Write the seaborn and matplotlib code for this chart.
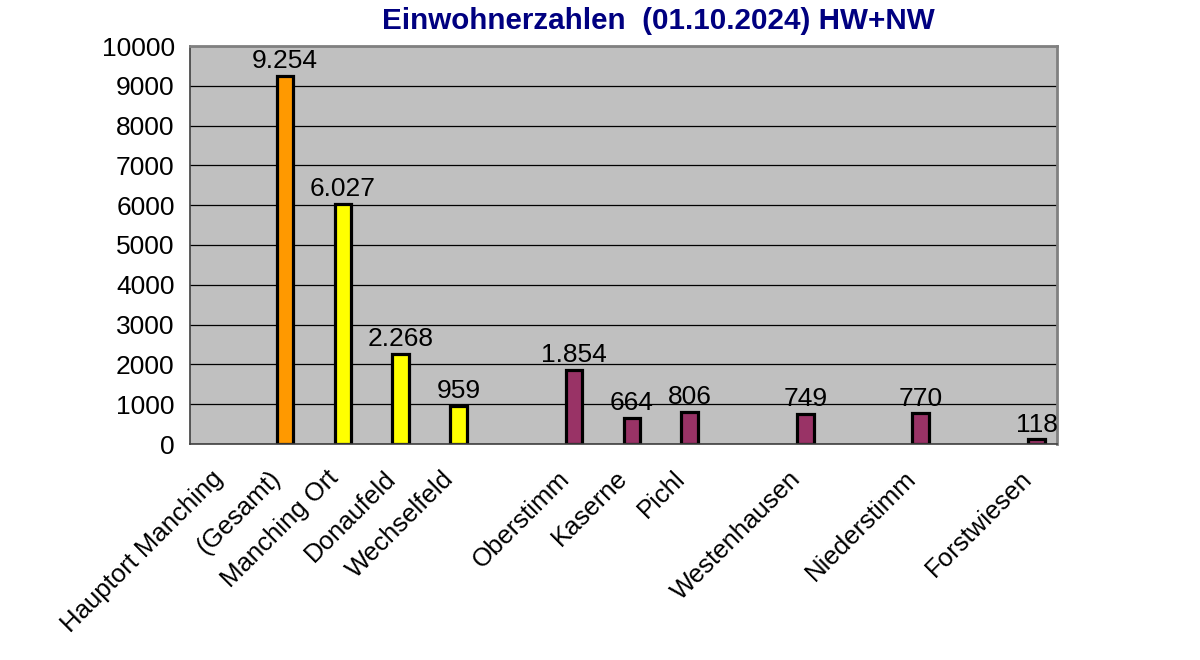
import numpy as np
import pandas as pd
import matplotlib
matplotlib.use("Agg")
import matplotlib.pyplot as plt
import seaborn as sns

# ---- data ----
categories = ["Hauptort Manching", "(Gesamt)", "Manching Ort", "Donaufeld", "Wechselfeld", "",
              "Oberstimm", "Kaserne", "Pichl", "", "Westenhausen", "", "Niederstimm", "", "Forstwiesen"]
values = [None, 9254, 6027, 2268, 959, None, 1854, 664, 806, None, 749, None, 770, None, 118]
bar_colors = [None, "#FF9900", "#FFFF00", "#FFFF00", "#FFFF00", None,
              "#993366", "#993366", "#993366", None, "#993366", None, "#993366", None, "#993366"]
y_ticks = list(range(0, 10001, 1000))
title = "Einwohnerzahlen  (01.10.2024) HW+NW"

sns.set_style("white")
plt.rcParams["font.family"] = ["Liberation Sans", "DejaVu Sans"]
plt.rcParams["text.color"] = "black"
plt.rcParams["xtick.color"] = "black"
plt.rcParams["ytick.color"] = "black"

slots = list(range(len(categories)))
rows = [(s, v) for s, v in zip(slots, values) if v is not None]
df = pd.DataFrame({"slot": [r[0] for r in rows], "wert": [r[1] for r in rows],
                   "serie": ["Wert"] * len(rows)})
cols = [c for c in bar_colors if c is not None]

fig = plt.figure(figsize=(12, 6.6), dpi=100)
ax = fig.add_axes([190 / 1200, 1 - 444 / 660, 867 / 1200, 398 / 660])
ax.set_facecolor("#C0C0C0")

sns.barplot(data=df, x="slot", y="wert", hue="serie", hue_order=["leer", "Wert"],
            order=slots, dodge=True, width=0.58, palette={"leer": "#9999FF", "Wert": "#993366"},
            edgecolor="black", linewidth=2.3, legend=False, ax=ax, errorbar=None)

bars = ax.containers[-1]
for p, c in zip(bars, cols):
    p.set_facecolor(c)

labels = [f"{v:,}".replace(",", ".") for v in df["wert"]]
ax.bar_label(bars, labels=labels, padding=2, fontsize=19, color="black")

ax.set_xlim(-0.5, len(categories) - 0.5)
ax.set_ylim(0, 10000)
ax.set_yticks(y_ticks)
ax.set_yticklabels([str(t) for t in y_ticks], fontsize=19, color="black")
ax.set_xticks(slots)
ax.set_xticklabels(categories, rotation=45, ha="right", va="center",
                   rotation_mode="anchor", fontsize=18.5, color="black")
ax.set_xticks(np.arange(-0.5, len(categories), 1.0), minor=True)
ax.tick_params(axis="x", which="major", length=0, pad=22)
ax.tick_params(axis="x", which="minor", length=6, width=1, color="black", direction="out")
ax.tick_params(axis="y", length=6, width=1, color="black", direction="out", pad=5)
ax.set_xlabel("")
ax.set_ylabel("")

ax.yaxis.grid(True, color="black", linewidth=0.9)
ax.set_axisbelow(True)
for side in ["top", "right"]:
    ax.spines[side].set_visible(True)
    ax.spines[side].set_color("#808080")
    ax.spines[side].set_linewidth(2)
for side in ["left", "bottom"]:
    ax.spines[side].set_visible(True)
    ax.spines[side].set_color("#404040")
    ax.spines[side].set_linewidth(1.2)

fig.text(658 / 1200, 1 - 21 / 660, title, ha="center", va="center",
         fontsize=21.3, fontweight="bold", color="#000080")

fig.savefig("out.png", dpi=100)
